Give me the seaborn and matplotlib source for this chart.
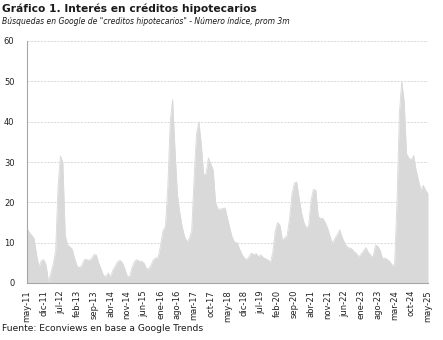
import numpy as np
import pandas as pd
import matplotlib
matplotlib.use("Agg")
import matplotlib.pyplot as plt
import seaborn as sns

# Google Trends index, 3-month average, monthly from May 2011 to May 2025
indice = [
    13.5, 12.5, 11.8, 11.0, 7.0, 4.0, 5.5, 5.8, 4.4, 0.3,
    2.5, 4.8, 8.0, 24.0, 31.5, 30.0, 11.8, 9.4, 9.0, 8.3,
    6.0, 4.2, 3.8, 4.4, 5.8, 5.8, 5.6, 6.0, 7.0, 7.0,
    5.0, 3.5, 1.9, 1.6, 2.5, 1.5, 3.2, 4.2, 5.3, 5.6,
    5.0, 3.5, 1.7, 1.6, 3.8, 5.3, 5.8, 5.4, 5.4, 5.0,
    3.6, 3.5, 4.5, 5.8, 6.2, 6.5, 9.5, 13.0, 14.0, 24.0,
    40.0, 45.5, 33.0, 22.0, 17.5, 14.0, 11.5, 10.3, 11.0, 13.0,
    26.0, 37.0, 40.0, 34.5, 27.0, 27.0, 31.0, 29.5, 28.0, 20.0,
    18.3, 18.3, 18.5, 18.6, 16.0, 13.5, 11.3, 10.1, 10.0, 8.5,
    7.2, 6.2, 5.8, 6.5, 7.4, 7.0, 7.3, 6.5, 7.0, 6.3,
    6.0, 5.7, 5.1, 7.7, 13.0, 15.0, 14.3, 10.6, 11.2, 11.8,
    16.0, 22.0, 24.8, 25.0, 21.0, 17.5, 15.0, 13.7, 14.1, 20.5,
    23.2, 23.0, 16.5, 16.0, 16.0, 14.9, 13.5, 11.5, 9.8, 11.0,
    12.0, 13.2, 11.4, 10.0, 9.0, 8.7, 8.5, 7.8, 7.3, 6.5,
    7.2, 8.0, 8.8, 7.6, 6.8, 6.5, 9.4, 9.1, 8.0, 6.0,
    6.2, 5.8, 5.3, 4.4, 4.5, 20.0, 42.0, 50.0, 45.0, 32.0,
    31.0, 30.5, 31.6, 28.0, 25.5, 23.0, 24.2, 23.0, 22.2,
]

etiquetas_x = [
    "may-11", "dic-11", "jul-12", "feb-13", "sep-13", "abr-14", "nov-14",
    "jun-15", "ene-16", "ago-16", "mar-17", "oct-17", "may-18", "dic-18",
    "jul-19", "feb-20", "sep-20", "abr-21", "nov-21", "jun-22", "ene-23",
    "ago-23", "mar-24", "oct-24", "may-25",
]
paso_etiquetas = 7
ticks_y = [0, 10, 20, 30, 40, 50, 60]

titulo = "Gráfico 1. Interés en créditos hipotecarios"
subtitulo = 'Búsquedas en Google de "creditos hipotecarios" - Número índice, prom 3m'
fuente = "Fuente: Econviews en base a Google Trends"

df = pd.DataFrame({"mes": np.arange(len(indice)), "indice": indice})

sns.set_theme(style="white")
plt.rcParams["font.family"] = ["DejaVu Sans"]

W, H = 443, 340
fig = plt.figure(figsize=(W / 100, H / 100), dpi=100)
fig.patch.set_facecolor("white")

left, right, top, bottom = 27, 428, 41, 283
ax = fig.add_axes([left / W, 1 - bottom / H, (right - left) / W, (bottom - top) / H])
ax.set_facecolor("white")

gris_area = "#d9d9d9"
ax.fill_between(df["mes"], 0, df["indice"], color=gris_area, linewidth=0, zorder=2)
sns.lineplot(data=df, x="mes", y="indice", ax=ax, color=gris_area, linewidth=0.6, zorder=2)

ax.set_xlim(0, len(indice) - 1)
ax.set_ylim(0, 60)
ax.set_yticks(ticks_y)
ax.set_yticklabels([str(t) for t in ticks_y], fontsize=6, color="#222222")
ax.set_xticks(np.arange(0, len(indice), paso_etiquetas))
ax.set_xticklabels(etiquetas_x, rotation=90, fontsize=6, color="#222222")
ax.set_xlabel("")
ax.set_ylabel("")

for t in ticks_y[1:]:
    ax.axhline(t, color="#d4d4d4", linewidth=0.6, linestyle=(0, (2.5, 1.5)), zorder=1)

for side in ["top", "right"]:
    ax.spines[side].set_visible(False)
for side in ["left", "bottom"]:
    ax.spines[side].set_color("#a6a6a6")
    ax.spines[side].set_linewidth(0.8)
    ax.spines[side].set_zorder(3)

ax.tick_params(axis="both", which="major", direction="out", length=3, width=0.7,
               color="#a6a6a6", pad=2)
ax.tick_params(axis="y", pad=6)

fig.text(2 / W, 1 - 3 / H, titulo, fontsize=7.7, fontweight="bold", va="top", ha="left",
         color="#1a1a1a")
fig.text(2 / W, 1 - 17 / H, subtitulo, fontsize=5.5, style="italic", va="top", ha="left",
         color="#1a1a1a")
fig.text(2 / W, 1 - 324 / H, fuente, fontsize=6.6, va="top", ha="left", color="#1a1a1a")

fig.savefig("out.png", dpi=100, facecolor="white")
